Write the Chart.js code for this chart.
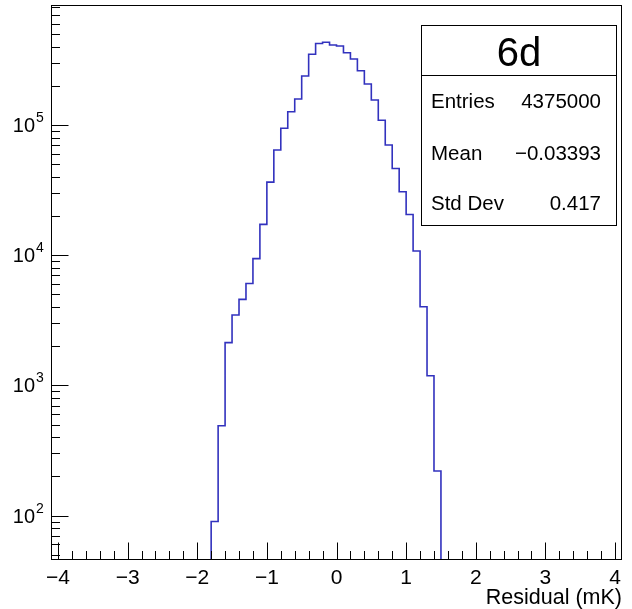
<!DOCTYPE html>
<html>
<head>
<meta charset="utf-8">
<script src="https://cdn.jsdelivr.net/npm/chart.js@4.4.0/dist/chart.umd.min.js"></script>
<style>
  html, body { margin: 0; padding: 0; background: #fff; }
  #wrap { width: 632px; height: 609px; position: relative; }
</style>
</head>
<body>
<div id="wrap"><canvas id="histo"></canvas></div>
<script>
// histogram bins: lower edge (mK) and content, bin width 0.1
const binEdges = [
  -1.8, -1.7, -1.6, -1.5, -1.4, -1.3, -1.2, -1.1, -1.0, -0.9, -0.8,
  -0.7, -0.6, -0.5, -0.4, -0.3, -0.2, -0.1, 0.0, 0.1, 0.2, 0.3,
  0.4, 0.5, 0.6, 0.7, 0.8, 0.9, 1.0, 1.1, 1.2, 1.3, 1.4
];
const binCounts = [
  90, 490, 2130, 3470, 4580, 6070, 9420, 17250, 36400, 64300, 94500,
  126500, 158400, 237900, 349200, 422700, 432600, 411500, 404400, 359100, 321200, 261300,
  206500, 155600, 108700, 70250, 46340, 30680, 20540, 10770, 4015, 1185, 220
];
const binWidth = 0.1;

const xTicks = [-4, -3, -2, -1, 0, 1, 2, 3, 4];
const yExponents = [2, 3, 4, 5];
const xTitle = "Residual (mK)";

const histTitle = "6d";
const statNames = ["Entries", "Mean", "Std Dev"];
const statValues = ["4375000", "\u22120.03393", "0.417"];

const xMin = -4.1, xMax = 4.1;
const yMin = 45.6, yMax = 8.35e5;

// step outline: drop to the floor at both ends like ROOT does for empty bins
let points = [{ x: binEdges[0], y: yMin }];
binEdges.forEach((e, i) => points.push({ x: e, y: binCounts[i] }));
points.push({ x: binEdges[binEdges.length - 1] + binWidth, y: yMin });

const FONT = "'Liberation Sans', Arial, Helvetica, sans-serif";

function minus(v) {
  return v < 0 ? "\u2212" + Math.abs(v) : String(v);
}

const rootAxes = {
  id: "rootAxes",
  afterDraw(chart) {
    const ctx = chart.ctx;
    const a = chart.chartArea;
    const xs = chart.scales.x;
    const ys = chart.scales.y;
    ctx.save();
    ctx.strokeStyle = "#000";
    ctx.lineWidth = 1;

    // frame
    ctx.strokeRect(Math.round(a.left) + 0.5, Math.round(a.top) + 0.5,
      Math.round(a.right - a.left) - 1, Math.round(a.bottom - a.top) - 1);

    const bottom = Math.round(a.bottom) - 0.5;
    const left = Math.round(a.left) + 0.5;

    // x ticks, pointing inward
    ctx.beginPath();
    for (let i = 0; i < xTicks.length; i++) {
      const px = Math.round(xs.getPixelForValue(xTicks[i])) + 0.5;
      ctx.moveTo(px, bottom);
      ctx.lineTo(px, bottom - 17);
      if (i < xTicks.length - 1) {
        for (let k = 1; k < 5; k++) {
          const v = xTicks[i] + (xTicks[i + 1] - xTicks[i]) * k / 5;
          const pm = Math.round(xs.getPixelForValue(v)) + 0.5;
          ctx.moveTo(pm, bottom);
          ctx.lineTo(pm, bottom - 8.5);
        }
      }
    }
    // y ticks (log)
    for (let e = 1; e <= 6; e++) {
      for (let m = 1; m < 10; m++) {
        const v = m * Math.pow(10, e);
        if (v < yMin || v > yMax) continue;
        const py = Math.round(ys.getPixelForValue(v)) + 0.5;
        ctx.moveTo(left, py);
        ctx.lineTo(left + (m === 1 ? 17 : 8.5), py);
      }
    }
    ctx.stroke();

    // tick labels
    ctx.fillStyle = "#000";
    ctx.font = "21px " + FONT;
    ctx.textAlign = "center";
    ctx.textBaseline = "alphabetic";
    xTicks.forEach(t => {
      ctx.fillText(minus(t), xs.getPixelForValue(t), 584);
    });
    yExponents.forEach(e => {
      const py = ys.getPixelForValue(Math.pow(10, e));
      ctx.font = "20px " + FONT;
      ctx.textAlign = "right";
      ctx.fillText("10", 35, py + 7);
      ctx.font = "14px " + FONT;
      ctx.textAlign = "left";
      ctx.fillText(String(e), 36, py - 3);
    });

    // axis title
    ctx.font = "21.5px " + FONT;
    ctx.textAlign = "right";
    ctx.fillText(xTitle, a.right, 604);

    // stats box
    const bx = 421.5, by = 25.5, bw = 195, bh = 200;
    ctx.fillStyle = "#fff";
    ctx.fillRect(bx, by, bw, bh);
    ctx.strokeRect(bx, by, bw, bh);
    ctx.beginPath();
    ctx.moveTo(bx, 75.5);
    ctx.lineTo(bx + bw, 75.5);
    ctx.stroke();
    ctx.fillStyle = "#000";
    ctx.font = "40px " + FONT;
    ctx.textAlign = "center";
    ctx.fillText(histTitle, bx + bw / 2, 66);
    ctx.font = "20.5px " + FONT;
    const rows = [108, 159.5, 210];
    statNames.forEach((n, i) => {
      ctx.textAlign = "left";
      ctx.fillText(n, 431, rows[i]);
      ctx.textAlign = "right";
      ctx.fillText(statValues[i], 601, rows[i]);
    });
    ctx.restore();
  }
};

new Chart(document.getElementById("histo"), {
  type: "line",
  data: {
    datasets: [{
      data: points,
      stepped: "before",
      borderColor: "#3232be",
      borderWidth: 1.6,
      pointRadius: 0,
      fill: false,
    }],
  },
  options: {
    responsive: true,
    maintainAspectRatio: false,
    animation: false,
    layout: { padding: { left: 51, right: 10, top: 5, bottom: 49 } },
    plugins: { legend: { display: false }, tooltip: { enabled: false } },
    scales: {
      x: { type: "linear", min: xMin, max: xMax, display: false },
      y: { type: "logarithmic", min: yMin, max: yMax, display: false },
    },
  },
  plugins: [rootAxes],
});
</script>
</body>
</html>
